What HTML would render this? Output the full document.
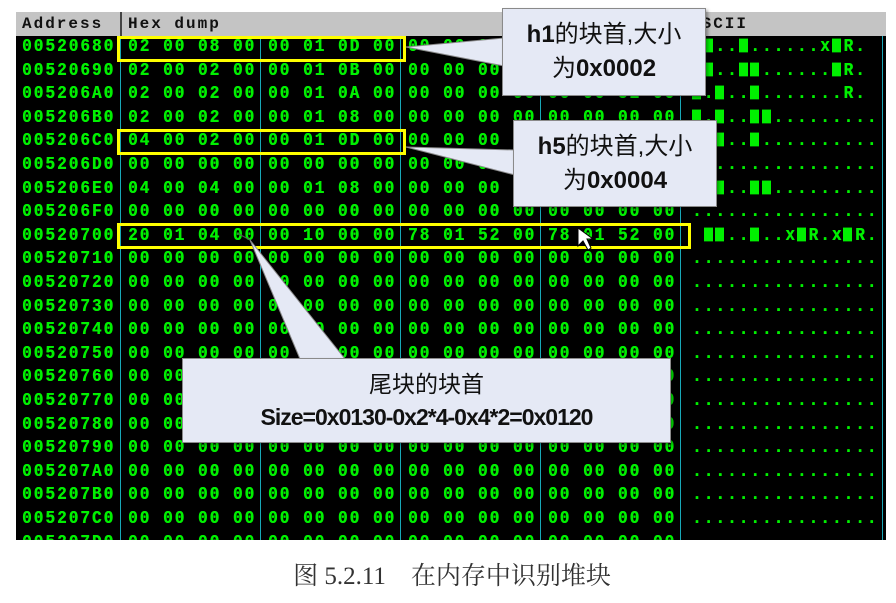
<!DOCTYPE html>
<html><head><meta charset="utf-8"><style>
body{margin:0;width:896px;height:603px;background:#fff;position:relative;overflow:hidden}
.abs{position:absolute}
#hdr{left:16px;top:12px;width:870px;height:24px;background:#c4c4c4}
#hdr span{position:absolute;top:3px;font:bold 16px "Liberation Mono",monospace;letter-spacing:2px;color:#111}
#body{left:16px;top:36px;width:870px;height:504px;background:#000;overflow:hidden}
.vl{position:absolute;top:0;width:1px;height:504px;background:#18a8b8}
.r{position:absolute;left:0;height:23px;font:bold 16px "Liberation Mono",monospace;letter-spacing:2.05px;color:#00f000;white-space:pre;transform:scaleY(1.15);transform-origin:0 50%;text-shadow:0.4px 0 0 #00f000}
.r span{position:absolute;top:0}
.a{left:6px}.g1{left:112px}.g2{left:252px}.g3{left:392px}.g4{left:532px}.s{left:676px}
.b{display:inline-block;width:9px;height:12px;background:#00f000;margin-right:2.65px;vertical-align:-1px}
.yb{position:absolute;border:3px solid #ffff00;box-sizing:border-box}
.co{position:absolute;background:#e5e9f5;border:1px solid #8a8a8a;box-shadow:2px 2px 3px rgba(0,0,0,.35);text-align:center;color:#111;font-family:"Liberation Sans","Noto Sans CJK SC",sans-serif}
.co b{font-weight:bold}
</style></head><body>
<div id="hdr" class="abs"><span style="left:6px">Address</span><span style="left:112px">Hex dump</span><span style="left:674px">ASCII</span><div style="position:absolute;left:104px;top:0;width:2px;height:24px;background:#444"></div></div>
<div id="body" class="abs">
<div class="vl" style="left:104px"></div><div class="vl" style="left:244px"></div><div class="vl" style="left:384px"></div><div class="vl" style="left:524px"></div><div class="vl" style="left:664px"></div><div class="vl" style="left:866px"></div>
<div class="r" style="top:2px"><span class="a">00520680</span><span class="g1">02 00 08 00</span><span class="g2">00 01 0D 00</span><span class="g3">00 00 00 00</span><span class="g4">78 01 52 00</span><span class="s">.<i class="b"></i>..<i class="b"></i>......x<i class="b"></i>R.</span></div>
<div class="r" style="top:25.6px"><span class="a">00520690</span><span class="g1">02 00 02 00</span><span class="g2">00 01 0B 00</span><span class="g3">00 00 00 00</span><span class="g4">00 00 52 00</span><span class="s">.<i class="b"></i>..<i class="b"></i><i class="b"></i>......<i class="b"></i>R.</span></div>
<div class="r" style="top:49.2px"><span class="a">005206A0</span><span class="g1">02 00 02 00</span><span class="g2">00 01 0A 00</span><span class="g3">00 00 00 00</span><span class="g4">00 00 52 00</span><span class="s"><i class="b"></i>.<i class="b"></i>..<i class="b"></i>.......R.</span></div>
<div class="r" style="top:72.8px"><span class="a">005206B0</span><span class="g1">02 00 02 00</span><span class="g2">00 01 08 00</span><span class="g3">00 00 00 00</span><span class="g4">00 00 00 00</span><span class="s"><i class="b"></i>.<i class="b"></i>..<i class="b"></i><i class="b"></i>.........</span></div>
<div class="r" style="top:96.4px"><span class="a">005206C0</span><span class="g1">04 00 02 00</span><span class="g2">00 01 0D 00</span><span class="g3">00 00 00 00</span><span class="g4">00 00 00 00</span><span class="s"><i class="b"></i>.<i class="b"></i>..<i class="b"></i>..........</span></div>
<div class="r" style="top:120px"><span class="a">005206D0</span><span class="g1">00 00 00 00</span><span class="g2">00 00 00 00</span><span class="g3">00 00 00 00</span><span class="g4">00 00 00 00</span><span class="s">................</span></div>
<div class="r" style="top:143.6px"><span class="a">005206E0</span><span class="g1">04 00 04 00</span><span class="g2">00 01 08 00</span><span class="g3">00 00 00 00</span><span class="g4">00 00 00 00</span><span class="s"><i class="b"></i>.<i class="b"></i>..<i class="b"></i><i class="b"></i>.........</span></div>
<div class="r" style="top:167.2px"><span class="a">005206F0</span><span class="g1">00 00 00 00</span><span class="g2">00 00 00 00</span><span class="g3">00 00 00 00</span><span class="g4">00 00 00 00</span><span class="s">................</span></div>
<div class="r" style="top:190.8px"><span class="a">00520700</span><span class="g1">20 01 04 00</span><span class="g2">00 10 00 00</span><span class="g3">78 01 52 00</span><span class="g4">78 01 52 00</span><span class="s"> <i class="b"></i><i class="b"></i>..<i class="b"></i>..x<i class="b"></i>R.x<i class="b"></i>R.</span></div>
<div class="r" style="top:214.4px"><span class="a">00520710</span><span class="g1">00 00 00 00</span><span class="g2">00 00 00 00</span><span class="g3">00 00 00 00</span><span class="g4">00 00 00 00</span><span class="s">................</span></div>
<div class="r" style="top:238px"><span class="a">00520720</span><span class="g1">00 00 00 00</span><span class="g2">00 00 00 00</span><span class="g3">00 00 00 00</span><span class="g4">00 00 00 00</span><span class="s">................</span></div>
<div class="r" style="top:261.6px"><span class="a">00520730</span><span class="g1">00 00 00 00</span><span class="g2">00 00 00 00</span><span class="g3">00 00 00 00</span><span class="g4">00 00 00 00</span><span class="s">................</span></div>
<div class="r" style="top:285.2px"><span class="a">00520740</span><span class="g1">00 00 00 00</span><span class="g2">00 00 00 00</span><span class="g3">00 00 00 00</span><span class="g4">00 00 00 00</span><span class="s">................</span></div>
<div class="r" style="top:308.8px"><span class="a">00520750</span><span class="g1">00 00 00 00</span><span class="g2">00 00 00 00</span><span class="g3">00 00 00 00</span><span class="g4">00 00 00 00</span><span class="s">................</span></div>
<div class="r" style="top:332.4px"><span class="a">00520760</span><span class="g1">00 00 00 00</span><span class="g2">00 00 00 00</span><span class="g3">00 00 00 00</span><span class="g4">00 00 00 00</span><span class="s">................</span></div>
<div class="r" style="top:356px"><span class="a">00520770</span><span class="g1">00 00 00 00</span><span class="g2">00 00 00 00</span><span class="g3">00 00 00 00</span><span class="g4">00 00 00 00</span><span class="s">................</span></div>
<div class="r" style="top:379.6px"><span class="a">00520780</span><span class="g1">00 00 00 00</span><span class="g2">00 00 00 00</span><span class="g3">00 00 00 00</span><span class="g4">00 00 00 00</span><span class="s">................</span></div>
<div class="r" style="top:403.2px"><span class="a">00520790</span><span class="g1">00 00 00 00</span><span class="g2">00 00 00 00</span><span class="g3">00 00 00 00</span><span class="g4">00 00 00 00</span><span class="s">................</span></div>
<div class="r" style="top:426.8px"><span class="a">005207A0</span><span class="g1">00 00 00 00</span><span class="g2">00 00 00 00</span><span class="g3">00 00 00 00</span><span class="g4">00 00 00 00</span><span class="s">................</span></div>
<div class="r" style="top:450.4px"><span class="a">005207B0</span><span class="g1">00 00 00 00</span><span class="g2">00 00 00 00</span><span class="g3">00 00 00 00</span><span class="g4">00 00 00 00</span><span class="s">................</span></div>
<div class="r" style="top:474px"><span class="a">005207C0</span><span class="g1">00 00 00 00</span><span class="g2">00 00 00 00</span><span class="g3">00 00 00 00</span><span class="g4">00 00 00 00</span><span class="s">................</span></div>
<div class="r" style="top:497.6px"><span class="a">005207D0</span><span class="g1">00 00 00 00</span><span class="g2">00 00 00 00</span><span class="g3">00 00 00 00</span><span class="g4">00 00 00 00</span><span class="s">................</span></div>
</div>
<div class="yb" style="left:117px;top:36px;width:289px;height:26px"></div>
<div class="yb" style="left:117px;top:129px;width:289px;height:26px"></div>
<div class="yb" style="left:117px;top:223px;width:574px;height:26px"></div>
<svg class="abs" style="left:0;top:0" width="896" height="603">
<polygon points="406,47 504,38 504,66" fill="#e5e9f5" stroke="#8a8a8a"/>
<polygon points="406,147 515,150 515,175" fill="#e5e9f5" stroke="#8a8a8a"/>
<polygon points="250,240 300,359 345,359" fill="#e5e9f5" stroke="#8a8a8a"/>
<line x1="250" y1="240" x2="237" y2="233" stroke="#555"/>
<polygon points="578,228 578,246 583,241 588,250 591,248 587,239 593,239" fill="#fff" stroke="#000" stroke-width="1"/>
</svg>
<div class="co" style="left:502px;top:8px;width:204px;height:88px;font-size:24px;line-height:34px;padding-top:9px;box-sizing:border-box"><b>h1</b>的块首,大小<br>为<b>0x0002</b></div>
<div class="co" style="left:513px;top:120px;width:204px;height:87px;font-size:24px;line-height:34px;padding-top:9px;box-sizing:border-box"><b>h5</b>的块首,大小<br>为<b>0x0004</b></div>
<div class="co" style="left:182px;top:358px;width:489px;height:85px;font-size:23px;line-height:33px;padding-top:9px;box-sizing:border-box">尾块的块首<br><b style="letter-spacing:-1px">Size=0x0130-0x2*4-0x4*2=0x0120</b></div>
<div class="abs" style="left:0;width:904px;top:556px;text-align:center;font:25px 'Liberation Serif','Noto Serif CJK SC',serif;color:#333">图 5.2.11　在内存中识别堆块</div>
</body></html>
